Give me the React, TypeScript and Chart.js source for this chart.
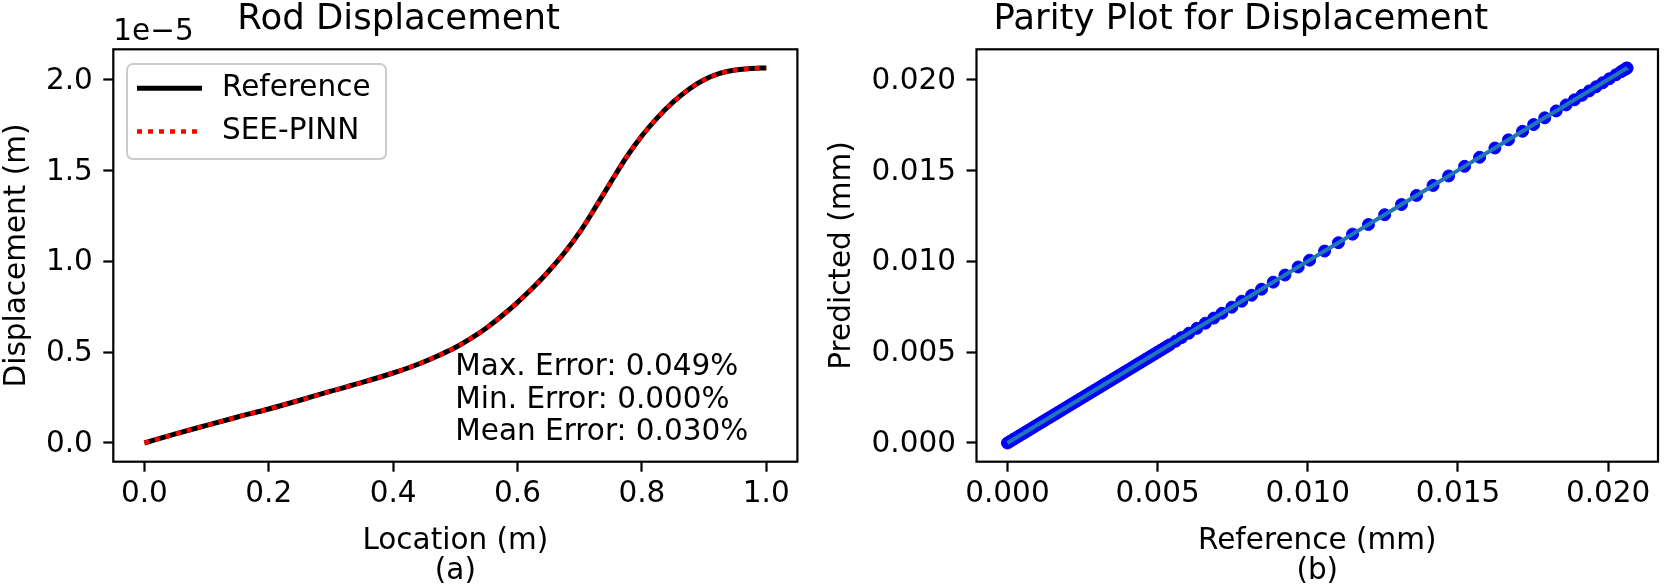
import React, { useEffect, useRef } from "react";
import { Chart, registerables } from "chart.js";

Chart.register(...registerables);

const FONT = '"DejaVu Sans", sans-serif';

// ---------- Panel (a): Rod Displacement ----------
const locationM = [0, 0.05, 0.1, 0.15, 0.2, 0.25, 0.3, 0.35, 0.4, 0.425, 0.45, 0.475, 0.5, 0.525, 0.55, 0.575, 0.6, 0.625, 0.65, 0.675, 0.7, 0.725, 0.75, 0.775, 0.8, 0.825, 0.85, 0.875, 0.9, 0.925, 0.95, 0.975, 1.0];
// displacement in units of 1e-5 m
const referenceDisp = [0, 0.05, 0.097, 0.143, 0.187, 0.235, 0.285, 0.333, 0.385, 0.414, 0.447, 0.484, 0.525, 0.575, 0.633, 0.7, 0.774, 0.855, 0.945, 1.045, 1.16, 1.295, 1.435, 1.572, 1.69, 1.79, 1.875, 1.945, 1.998, 2.033, 2.052, 2.061, 2.063];
const seePinnDisp = [0, 0.05, 0.097, 0.143, 0.187, 0.235, 0.285, 0.333, 0.385, 0.414, 0.447, 0.484, 0.525, 0.575, 0.633, 0.7, 0.774, 0.855, 0.945, 1.045, 1.16, 1.295, 1.435, 1.572, 1.69, 1.79, 1.875, 1.945, 1.998, 2.033, 2.052, 2.061, 2.063];
const leftXTicks = [0, 0.2, 0.4, 0.6, 0.8, 1.0];
const leftYTicks = [0, 0.5, 1.0, 1.5, 2.0];
const leftOffsetText = "1e\u22125";
const errorLines = ["Max. Error: 0.049%", "Min. Error: 0.000%", "Mean Error: 0.030%"];
const legendLabels = ["Reference", "SEE-PINN"];

// ---------- Panel (b): Parity plot (mm) ----------
const parityReferenceMm = [
  0.0, 0.0001, 0.0002, 0.0003, 0.0004, 0.0005, 0.0006, 0.0007, 0.0008, 0.0009,
  0.001, 0.0011, 0.0012, 0.0013, 0.0014, 0.0015, 0.0016, 0.0017, 0.0018, 0.0019,
  0.002, 0.0021, 0.0022, 0.0023, 0.0024, 0.0025, 0.0026, 0.0027, 0.0028, 0.0029,
  0.003, 0.0031, 0.0032, 0.0033, 0.0034, 0.0035, 0.0036, 0.0037, 0.0038, 0.0039,
  0.004, 0.0041, 0.0042, 0.0043, 0.0044, 0.0045, 0.0046, 0.0047, 0.0048, 0.0049,
  0.005, 0.0051, 0.0052, 0.0053, 0.0054, 0.0056, 0.0058,
  0.00604, 0.00631, 0.00659, 0.00687, 0.00714, 0.00747, 0.0078, 0.00813, 0.00846, 0.00885,
  0.00924, 0.00968, 0.01006, 0.01056, 0.01102, 0.01149, 0.01202, 0.01256, 0.01312, 0.01362,
  0.01417, 0.01469, 0.01522, 0.01572, 0.01623, 0.01668, 0.01715, 0.01752, 0.01789, 0.01827,
  0.0186, 0.01888, 0.01913, 0.01937, 0.0196, 0.01982, 0.02004, 0.02026, 0.02042, 0.0205,
  0.02056, 0.0206, 0.02062, 0.02063,
];
const parityPredictedMm = [
  0.0, 0.0001, 0.0002, 0.0003, 0.0004, 0.0005, 0.0006, 0.0007, 0.0008, 0.0009,
  0.001, 0.0011, 0.0012, 0.0013, 0.0014, 0.0015, 0.0016, 0.0017, 0.0018, 0.0019,
  0.002, 0.0021, 0.0022, 0.0023, 0.0024, 0.0025, 0.0026, 0.0027, 0.0028, 0.0029,
  0.003, 0.0031, 0.0032, 0.0033, 0.0034, 0.0035, 0.0036, 0.0037, 0.0038, 0.0039,
  0.004, 0.0041, 0.0042, 0.0043, 0.0044, 0.0045, 0.0046, 0.0047, 0.0048, 0.0049,
  0.005, 0.0051, 0.0052, 0.0053, 0.0054, 0.0056, 0.0058,
  0.00604, 0.00631, 0.00659, 0.00687, 0.00714, 0.00747, 0.0078, 0.00813, 0.00846, 0.00885,
  0.00924, 0.00968, 0.01006, 0.01056, 0.01102, 0.01149, 0.01202, 0.01256, 0.01312, 0.01362,
  0.01417, 0.01469, 0.01522, 0.01572, 0.01623, 0.01668, 0.01715, 0.01752, 0.01789, 0.01827,
  0.0186, 0.01888, 0.01913, 0.01937, 0.0196, 0.01982, 0.02004, 0.02026, 0.02042, 0.0205,
  0.02056, 0.0206, 0.02062, 0.02063,
];
const rightTicks = [0, 0.005, 0.01, 0.015, 0.02];

const TICK_SIZE = 29.5;
const TITLE_SIZE = 35.5;
const FRAME_W = 2.2;

const framePlugin = {
  id: "frame",
  afterDatasetsDraw(chart: any) {
    const { ctx, chartArea } = chart;
    const { left, top, right, bottom } = chartArea;
    ctx.save();
    ctx.strokeStyle = "#000";
    ctx.lineWidth = FRAME_W;
    ctx.strokeRect(left, top, right - left, bottom - top);
    ctx.restore();
  },
};

const leftOverlay = {
  id: "leftOverlay",
  afterDraw(chart: any) {
    const { ctx, chartArea } = chart;
    const { left, top, bottom } = chartArea;
    ctx.save();
    ctx.fillStyle = "#000";
    ctx.font = `${TICK_SIZE}px ${FONT}`;
    ctx.textAlign = "left";
    ctx.textBaseline = "alphabetic";
    ctx.fillText(leftOffsetText, left, top - 9.3);

    // error annotation
    const w = chartArea.right - left;
    errorLines.forEach((t, i) => {
      ctx.fillText(t, left + 0.5 * w, bottom - 21.7 - (errorLines.length - 1 - i) * 32.5);
    });

    // legend
    const bx = left + 13.7;
    const by = top + 14.7;
    const bw = 259;
    const bh = 95;
    ctx.beginPath();
    ctx.roundRect(bx, by, bw, bh, 6);
    ctx.fillStyle = "rgba(255,255,255,0.8)";
    ctx.fill();
    ctx.strokeStyle = "#cccccc";
    ctx.lineWidth = 2;
    ctx.stroke();

    const ds = chart.data.datasets;
    const rows = [by + 24.3, by + 67.5];
    legendLabels.forEach((label, i) => {
      const d = ds[i];
      ctx.save();
      ctx.beginPath();
      ctx.strokeStyle = d.borderColor;
      ctx.lineWidth = d.borderWidth;
      ctx.setLineDash(d.borderDash || []);
      ctx.lineCap = "butt";
      ctx.moveTo(bx + 10, rows[i]);
      ctx.lineTo(bx + 75, rows[i]);
      ctx.stroke();
      ctx.restore();
      ctx.fillStyle = "#000";
      ctx.textBaseline = "middle";
      ctx.font = `${TICK_SIZE}px ${FONT}`;
      ctx.fillText(label, bx + 95, rows[i]);
    });
    ctx.restore();
  },
};

function axisCommon(ticks: number[], digits: number, isY: boolean, size: number) {
  return {
    type: "linear" as const,
    afterBuildTicks: (s: any) => {
      s.ticks = ticks.map((v) => ({ value: v }));
    },
    afterFit: (s: any) => {
      if (isY) s.width = size;
      else s.height = size;
    },
    ticks: {
      callback: (v: any) => Number(v).toFixed(digits),
      font: { family: FONT, size: TICK_SIZE },
      color: "#000",
      padding: isY ? 10.5 : 5,
      labelOffset: isY ? 1.5 : 0,
      maxRotation: 0,
      autoSkip: false,
    },
    grid: {
      display: true,
      drawOnChartArea: false,
      drawTicks: true,
      tickLength: 10,
      tickWidth: FRAME_W,
      tickColor: "#000",
      color: "#000",
    },
    border: { display: false },
  };
}

function LeftChart() {
  const ref = useRef<HTMLCanvasElement>(null);
  useEffect(() => {
    if (!ref.current) return;
    const chart = new Chart(ref.current, {
      type: "scatter",
      data: {
        datasets: [
          {
            label: legendLabels[0],
            data: locationM.map((x, i) => ({ x, y: referenceDisp[i] })),
            showLine: true,
            borderColor: "#000000",
            borderWidth: 5,
            pointRadius: 0,
            cubicInterpolationMode: "monotone",
            order: 1,
          },
          {
            label: legendLabels[1],
            data: locationM.map((x, i) => ({ x, y: seePinnDisp[i] })),
            showLine: true,
            borderColor: "#ff0000",
            borderWidth: 4.5,
            borderDash: [5, 6],
            borderCapStyle: "butt",
            pointRadius: 0,
            cubicInterpolationMode: "monotone",
            order: 0,
          },
        ],
      } as any,
      options: {
        responsive: false,
        animation: false,
        events: [],
        layout: { padding: { left: 0, right: 22.6, top: 0, bottom: 0 } },
        plugins: {
          legend: { display: false },
          tooltip: { enabled: false },
          title: {
            display: true,
            text: "Rod Displacement",
            color: "#000",
            font: { family: FONT, size: TITLE_SIZE, weight: "normal", lineHeight: 1.0 },
            padding: { top: 1.65, bottom: 12.15 },
          },
        },
        scales: {
          x: {
            ...axisCommon(leftXTicks, 1, false, 124.3),
            min: -0.05,
            max: 1.05,
            title: {
              display: true,
              text: ["Location (m)", "(a)"],
              color: "#000",
              font: { family: FONT, size: TICK_SIZE, lineHeight: 1.0 },
              padding: { top: 0, bottom: 0 },
            },
          },
          y: {
            ...axisCommon(leftYTicks, 1, true, 113.3),
            min: -0.103,
            max: 2.166,
            title: {
              display: true,
              text: "Displacement (m)",
              color: "#000",
              font: { family: FONT, size: TICK_SIZE, lineHeight: 0.8 },
              padding: { top: 6, bottom: 0 },
            },
          },
        },
      } as any,
      plugins: [framePlugin, leftOverlay],
    });
    return () => chart.destroy();
  }, []);
  return <canvas ref={ref} width={820} height={586} style={{ position: "absolute", left: 0, top: 0 }} />;
}

function RightChart() {
  const ref = useRef<HTMLCanvasElement>(null);
  useEffect(() => {
    if (!ref.current) return;
    const pts = parityReferenceMm.map((x, i) => ({ x, y: parityPredictedMm[i] }));
    const chart = new Chart(ref.current, {
      type: "scatter",
      data: {
        datasets: [
          {
            label: "Parity line",
            data: pts,
            showLine: true,
            borderColor: "#1f77b4",
            borderWidth: 4,
            pointRadius: 0,
            tension: 0,
            order: 0,
          },
          {
            label: "Predicted vs Reference",
            data: pts,
            showLine: false,
            backgroundColor: "#0000ff",
            borderColor: "#0000ff",
            borderWidth: 1,
            pointRadius: 6,
            order: 1,
          },
        ],
      } as any,
      options: {
        responsive: false,
        animation: false,
        events: [],
        layout: { padding: { left: 0, right: 3.4, top: 0, bottom: 0 } },
        plugins: {
          legend: { display: false },
          tooltip: { enabled: false },
          title: {
            display: true,
            text: "Parity Plot for Displacement",
            color: "#000",
            font: { family: FONT, size: TITLE_SIZE, weight: "normal", lineHeight: 1.0 },
            padding: { top: 1.65, bottom: 12.15 },
          },
        },
        scales: {
          x: {
            ...axisCommon(rightTicks, 3, false, 124.3),
            min: -0.00103,
            max: 0.02166,
            title: {
              display: true,
              text: ["Reference (mm)", "(b)"],
              color: "#000",
              font: { family: FONT, size: TICK_SIZE, lineHeight: 1.0 },
              padding: { top: 0, bottom: 0 },
            },
          },
          y: {
            ...axisCommon(rightTicks, 3, true, 156.5),
            min: -0.00103,
            max: 0.02166,
            title: {
              display: true,
              text: "Predicted (mm)",
              color: "#000",
              font: { family: FONT, size: TICK_SIZE, lineHeight: 0.8 },
              padding: { top: 11, bottom: 0 },
            },
          },
        },
      } as any,
      plugins: [framePlugin],
    });
    return () => chart.destroy();
  }, []);
  return <canvas ref={ref} width={845} height={586} style={{ position: "absolute", left: 820, top: 0 }} />;
}

export default function App() {
  return (
    <div style={{ position: "fixed", left: 0, top: 0, width: 1665, height: 586, background: "#fff", overflow: "hidden" }}>
      <LeftChart />
      <RightChart />
    </div>
  );
}
